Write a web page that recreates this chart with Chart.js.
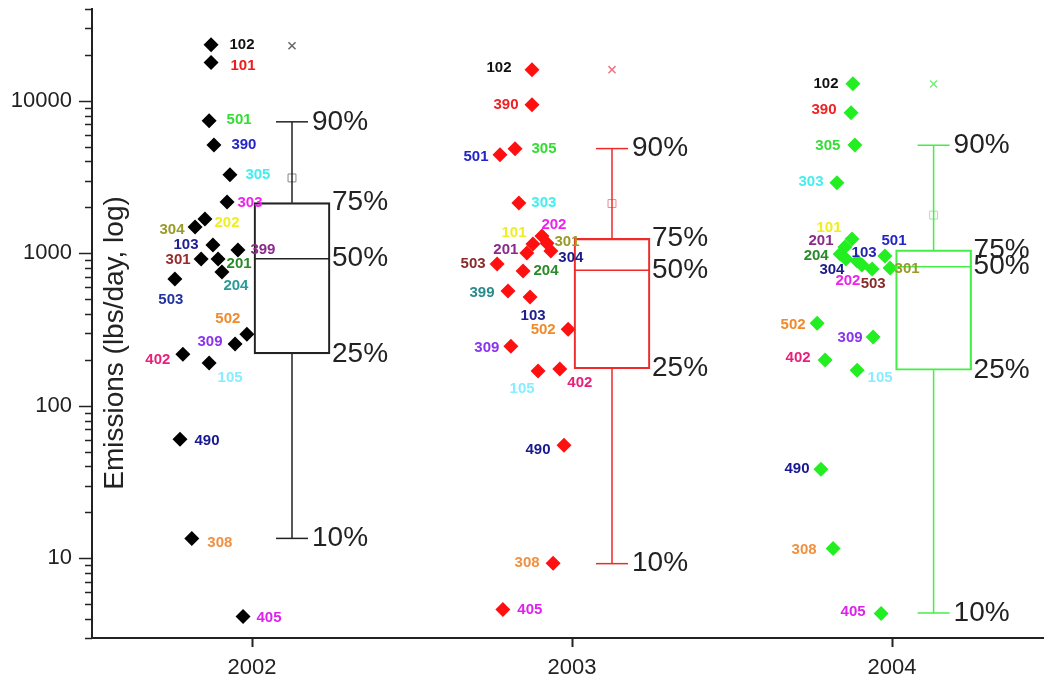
<!DOCTYPE html>
<html>
<head>
<meta charset="utf-8">
<script src="https://cdn.jsdelivr.net/npm/chart.js@4.4.0/dist/chart.umd.min.js"></script>
<style>
  html, body { margin: 0; padding: 0; background: #fff; }
  canvas { display: block; }
</style>
</head>
<body>
<canvas id="emChart" width="1044" height="681"></canvas>
<script>
const YEARS = [2002, 2003, 2004];
const Y_MAJOR = [10, 100, 1000, 10000];
const Y_MIN = 3, Y_MAX = 40000;
const PCT_LABELS = ["10%", "25%", "50%", "75%", "90%"];

// facility codes and emissions per year (lbs/day)
const CODES_2002 = ["102","101","501","390","305","303","202","304","103","399","301","201","204","503","502","309","402","105","490","308","405"];
const X_2002 = [2001.872,2001.872,2001.866,2001.881,2001.931,2001.922,2001.853,2001.822,2001.878,2001.956,2001.841,2001.894,2001.906,2001.759,2001.984,2001.947,2001.784,2001.866,2001.775,2001.812,2001.972];
const E_2002 = [23300,17800,7400,5140,3270,2170,1680,1490,1133,1052,918,918,753,678,295,254,218,191,60.4,13.5,4.15];
const C_2002 = ["#111","#ee1c1c","#33dd33","#2424c8","#44eeee","#ee22ee","#eeee22","#9a9a2a","#202090","#8a2a8a","#992a2a","#2a8a2a","#2a9a9a","#2233a0","#f08a2a","#8a33ee","#e8207a","#88eeff","#181890","#f09040","#dd22ee"];
const L_2002 = [[31,0],[32,3],[30,-1],[30,0],[28,0],[23,1],[22,4],[-23,3],[-27,0],[25,0],[-23,1],[21,5],[14,14],[-4,21],[-19,-15],[-25,-2],[-25,6],[21,15],[27,2],[28,4],[26,1]];

const CODES_2003 = ["102","390","501","305","303","202","101","301","201","304","503","204","399","103","502","309","105","402","490","308","405"];
const X_2003 = [2002.875,2002.875,2002.775,2002.822,2002.834,2002.906,2002.878,2002.922,2002.859,2002.934,2002.766,2002.847,2002.8,2002.869,2002.988,2002.809,2002.894,2002.962,2002.975,2002.941,2002.784];
const E_2003 = [16000,9420,4420,4840,2140,1300,1150,1165,1005,1035,851,766,565,516,318,246,169,174,55.1,9.27,4.61];
const C_2003 = ["#111","#ee2222","#2424c8","#33dd33","#44eeee","#ee22ee","#eeee22","#9a9a2a","#8a2a8a","#1a1a8a","#8a2a2a","#2a8a2a","#2a8a8a","#202090","#f08a2a","#8a33ee","#88eeff","#e8207a","#181890","#f09040","#dd22ee"];
const L_2003 = [[-33,-2],[-26,0],[-24,2],[29,0],[25,0],[12,-11],[-19,-11],[20,-1],[-21,-3],[20,7],[-24,0],[23,0],[-26,2],[3,19],[-25,1],[-24,2],[-16,18],[20,14],[-26,5],[-26,0],[27,0]];

const CODES_2004 = ["102","390","305","303","101","201","204","304","103","202","503","501","301","502","309","402","105","490","308","405"];
const X_2004 = [2003.878,2003.872,2003.884,2003.828,2003.875,2003.853,2003.838,2003.856,2003.891,2003.906,2003.938,2003.978,2003.994,2003.766,2003.941,2003.791,2003.891,2003.778,2003.816,2003.966];
const E_2004 = [12940,8340,5140,2900,1240,1099,989,918,889,838,789,960,800,348,282,200,171,38.4,11.6,4.35];
const C_2004 = ["#111","#ee2222","#33dd33","#44eeee","#eeee22","#8a2a8a","#2a8a2a","#1a1a8a","#2424b0","#ee22ee","#8a2a2a","#2424c8","#9a9a2a","#f08a2a","#8a33ee","#e8207a","#88eeff","#181890","#f09040","#dd22ee"];
const L_2004 = [[-27,0],[-27,-3],[-27,1],[-26,-1],[-23,-11],[-24,-6],[-24,2],[-14,11],[7,-8],[-14,16],[1,15],[9,-15],[17,1],[-24,2],[-23,1],[-27,-2],[23,8],[-24,0],[-29,1],[-28,-2]];

// box statistics per year
const BOX_X = [2002.125, 2003.125, 2004.13];
const P10 = [13.5, 9.22, 4.37];
const Q1  = [219, 175, 171];
const MED = [922, 773, 817];
const Q3  = [2148, 1254, 1052];
const P90 = [7280, 4860, 5120];
const MEAN = [3120, 2120, 1780];
const MAX  = [22970, 16000, 12880];

const MARK_COLORS = ["#000000", "#ff1010", "#22ee22"];
const BOX_COLORS  = ["#222222", "#ee2a2a", "#44ee44"];
const MEAN_COLORS = ["#888888", "#ee8888", "#99ee99"];
const MAX_COLORS  = ["#666666", "#ee7788", "#77ee77"];
const AXIS_COLOR = "#222";
const FONT = "'Liberation Sans', Arial, sans-serif";

const GROUPS = [
  { codes: CODES_2002, xs: X_2002, vals: E_2002, colors: C_2002, offs: L_2002 },
  { codes: CODES_2003, xs: X_2003, vals: E_2003, colors: C_2003, offs: L_2003 },
  { codes: CODES_2004, xs: X_2004, vals: E_2004, colors: C_2004, offs: L_2004 }
];

function yTickValues() {
  const out = [];
  [1, 10, 100, 1000, 10000].forEach(d => {
    for (let m = 1; m <= 9; m++) {
      const v = m * d;
      if (v >= Y_MIN && v <= Y_MAX) out.push({ value: v });
    }
  });
  return out;
}

const datasets = [];

GROUPS.forEach((g, i) => {
  datasets.push({
    type: "scatter",
    label: "pts" + YEARS[i],
    data: g.xs.map((x, j) => ({ x: x, y: g.vals[j] })),
    pointStyle: "rectRot",
    pointRadius: 7.5,
    pointBackgroundColor: MARK_COLORS[i],
    pointBorderWidth: 0,
    order: 5
  });
});

datasets.push({
  type: "bar",
  label: "box",
  data: BOX_X.map((x, i) => ({ x: x, y: [Q1[i], Q3[i]] })),
  backgroundColor: "rgba(0,0,0,0)",
  borderColor: BOX_COLORS,
  borderWidth: 1.5,
  borderSkipped: false,
  barThickness: 76,
  grouped: false,
  order: 1
});

BOX_X.forEach((x, i) => {
  datasets.push({
    type: "line",
    label: "whisker" + i,
    data: [{ x: x, y: P10[i] }, { x: x, y: Q1[i] }, { x: x, y: null }, { x: x, y: Q3[i] }, { x: x, y: P90[i] }],
    borderColor: BOX_COLORS[i],
    borderWidth: 1.5,
    pointRadius: 0,
    spanGaps: false,
    order: 1
  });
});

datasets.push({
  type: "scatter",
  label: "median",
  data: BOX_X.map((x, i) => ({ x: x, y: MED[i] })),
  pointStyle: "line",
  pointRadius: 38,
  pointBorderColor: BOX_COLORS,
  pointBorderWidth: 1.5,
  order: 1
});

datasets.push({
  type: "scatter",
  label: "caps",
  data: BOX_X.flatMap((x, i) => [{ x: x, y: P10[i] }, { x: x, y: P90[i] }]),
  pointStyle: "line",
  pointRadius: 16,
  pointBorderColor: BOX_COLORS.flatMap(c => [c, c]),
  pointBorderWidth: 1.5,
  order: 1
});

datasets.push({
  type: "scatter",
  label: "mean",
  data: BOX_X.map((x, i) => ({ x: x, y: MEAN[i] })),
  pointStyle: "rect",
  pointRadius: 5.6,
  pointBackgroundColor: "rgba(0,0,0,0)",
  pointBorderColor: MEAN_COLORS,
  pointBorderWidth: 1,
  order: 1
});

datasets.push({
  type: "scatter",
  label: "max",
  data: BOX_X.map((x, i) => ({ x: x, y: MAX[i] })),
  pointStyle: "crossRot",
  pointRadius: 5,
  pointBorderColor: MAX_COLORS,
  pointBorderWidth: 1.5,
  order: 1
});

// labels next to each point, percent labels next to the boxes, axis title
const annotate = {
  id: "annotate",
  afterDatasetsDraw(chart) {
    const ctx = chart.ctx;
    const xs = chart.scales.x, ys = chart.scales.y;
    ctx.save();
    ctx.textAlign = "center";
    ctx.textBaseline = "middle";
    ctx.font = "bold 15px " + FONT;
    GROUPS.forEach((g, i) => {
      const meta = chart.getDatasetMeta(i);
      meta.data.forEach((el, j) => {
        ctx.fillStyle = g.colors[j];
        ctx.fillText(g.codes[j], el.x + g.offs[j][0], el.y + g.offs[j][1]);
      });
    });

    ctx.font = "28px " + FONT;
    ctx.fillStyle = AXIS_COLOR;
    ctx.textAlign = "left";
    BOX_X.forEach((x, i) => {
      const cx = xs.getPixelForValue(x);
      const vals = [P10[i], Q1[i], MED[i], Q3[i], P90[i]];
      vals.forEach((v, k) => {
        const dx = (k === 0 || k === 4) ? 20 : 40;
        ctx.fillText(PCT_LABELS[k], cx + dx, ys.getPixelForValue(v));
      });
    });
    ctx.restore();
  },
  afterDraw(chart) {
    const ctx = chart.ctx, y = chart.scales.y;
    const left = chart.chartArea.left;
    ctx.save();
    ctx.strokeStyle = AXIS_COLOR;
    ctx.lineWidth = 1.5;
    y.ticks.forEach(t => {
      const py = Math.round(y.getPixelForValue(t.value)) + 0.5;
      const len = Y_MAJOR.includes(t.value) ? 13 : 7;
      ctx.beginPath();
      ctx.moveTo(left - len, py);
      ctx.lineTo(left, py);
      ctx.stroke();
    });
    // y title sits inside the plot area
    ctx.translate(left + 31, 343);
    ctx.rotate(-Math.PI / 2);
    ctx.textAlign = "center";
    ctx.textBaseline = "alphabetic";
    ctx.fillStyle = AXIS_COLOR;
    ctx.font = "28px " + FONT;
    ctx.fillText("Emissions (lbs/day, log)", 0, 0);
    ctx.restore();
  }
};

new Chart(document.getElementById("emChart"), {
  type: "scatter",
  data: { datasets: datasets },
  options: {
    responsive: false,
    animation: false,
    layout: { autoPadding: false, padding: { top: 9, left: 0, right: 0, bottom: 0 } },
    plugins: { legend: { display: false }, tooltip: { enabled: false } },
    scales: {
      x: {
        type: "linear",
        min: 2001.5,
        max: 2004.475,
        offset: false,
        afterBuildTicks: (s) => { s.ticks = YEARS.map(v => ({ value: v })); },
        afterFit: (s) => { s.height = 43; s.paddingLeft = 0; s.paddingRight = 0; },
        ticks: {
          callback: (v) => String(v),
          color: AXIS_COLOR,
          font: { size: 22, family: FONT },
          padding: 8,
          maxRotation: 0
        },
        grid: { display: true, offset: false, drawOnChartArea: false, drawTicks: true, tickLength: 9, tickWidth: 2, tickColor: AXIS_COLOR },
        border: { display: true, color: AXIS_COLOR, width: 2 }
      },
      y: {
        type: "logarithmic",
        min: Y_MIN,
        max: Y_MAX,
        afterBuildTicks: (s) => { s.ticks = yTickValues(); },
        afterFit: (s) => { s.width = 92; s.paddingTop = 0; s.paddingBottom = 0; },
        ticks: {
          callback: (v) => Y_MAJOR.includes(v) ? String(v) : "",
          color: AXIS_COLOR,
          font: { size: 22, family: FONT },
          padding: 20,
          autoSkip: false
        },
        grid: { display: false, drawTicks: false },
        border: { display: true, color: AXIS_COLOR, width: 2 }
      }
    }
  },
  plugins: [annotate]
});
</script>
</body>
</html>
